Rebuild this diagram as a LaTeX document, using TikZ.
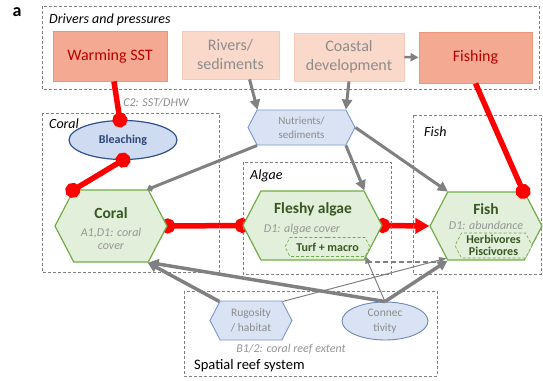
\documentclass[tikz,border=0pt]{standalone}
\usepackage{fontspec}
\setmainfont{Carlito}
\usepackage{tikz}
\usetikzlibrary{positioning, calc}
\usetikzlibrary{arrows.meta}
\usetikzlibrary{shapes,backgrounds}

\definecolor{sstfill}{RGB}{244,170,146}
\definecolor{sstdraw}{RGB}{234,150,124}
\definecolor{drvfill}{RGB}{251,217,202}
\definecolor{drvdraw}{RGB}{246,202,184}
\definecolor{redtext}{RGB}{185,0,0}
\definecolor{drvtext}{RGB}{140,140,140}
\definecolor{hexfill}{RGB}{226,239,218}
\definecolor{hexdraw}{RGB}{112,173,71}
\definecolor{hextext}{RGB}{56,87,35}
\definecolor{subtext}{RGB}{150,150,150}
\definecolor{bluefill}{RGB}{218,227,243}
\definecolor{bleachfill}{RGB}{206,219,241}
\definecolor{bleachdraw}{RGB}{47,82,143}
\definecolor{bleachtext}{RGB}{47,70,120}
\definecolor{bluedraw}{RGB}{120,150,205}
\definecolor{boxgray}{RGB}{128,128,128}
\definecolor{linkgray}{RGB}{128,128,128}
\definecolor{linkred}{RGB}{255,0,0}

\begin{document}
\begin{tikzpicture}[x=1pt,y=-1pt,draw=black!100]
	\useasboundingbox (0,0) rectangle (543,380);
	\tikzstyle{grp-box}=[draw=boxgray,line width=0.8pt,dash pattern=on 3pt off 2pt]
	\tikzstyle{grp-lbl}=[anchor=west,inner sep=0pt,font=\fontsize{14}{16}\selectfont\itshape]
	\tikzstyle{drv-node}=[rectangle,draw=drvdraw,fill=drvfill,text=drvtext,line width=0.8pt,align=center,inner sep=0pt,font=\fontsize{16}{19}\selectfont]
	\tikzstyle{hot-node}=[drv-node,draw=sstdraw,fill=sstfill,text=redtext]
	\tikzstyle{hex-node}=[signal,signal to=east and west,signal pointer angle=125,draw=hexdraw,fill=hexfill,line width=1.2pt,inner sep=0pt]
	\tikzstyle{sub-hex}=[signal,signal to=east and west,signal pointer angle=125,draw=hexdraw,fill=hexfill,densely dashed,line width=0.6pt,inner sep=0pt,align=center,text=hextext,font=\fontsize{12}{12.5}\selectfont\bfseries]
	\tikzstyle{blue-hex}=[signal,signal to=east and west,signal pointer angle=125,draw=bluedraw,fill=bluefill,line width=0.9pt,inner sep=0pt,align=center,text=drvtext]
	\tikzstyle{blue-ell}=[ellipse,draw=bluedraw,fill=bluefill,line width=0.9pt,inner sep=0pt,align=center,text=drvtext]
	\tikzstyle{hex-ttl}=[text=hextext,inner sep=0pt,font=\fontsize{15.5}{17}\selectfont\bfseries]
	\tikzstyle{hex-sub}=[text=subtext,inner sep=0pt,align=center,font=\fontsize{12}{13.5}\selectfont\itshape]
	\tikzstyle{red-link}=[draw=linkred,line width=5.5pt]
	\tikzstyle{red-ball}=[red-link,-{Circle[length=15pt]},shorten >=-7.5pt]
	\tikzstyle{red-balls}=[red-link,{Circle[length=15pt]}-{Circle[length=15pt]},shorten <=-7.5pt,shorten >=-7.5pt]
	\tikzstyle{red-arrow}=[red-link,{Circle[length=15pt]}-{Triangle[length=14pt,width=15pt]},shorten <=-7.5pt]
	\tikzstyle{gray-link}=[draw=linkgray,line width=3pt,-{Triangle[length=10pt,width=10pt]}]
	\tikzstyle{thin-link}=[draw=linkgray,line width=1pt,-{Triangle[length=7pt,width=6pt]}]

	\node[font=\fontsize{18}{20}\selectfont\bfseries] (lbla) at (17,12) {a};

	% drivers and pressures
	\draw[grp-box] (42,6) rectangle (539,89);
	\node[grp-lbl] (lbldrv) at (49,20) {Drivers and pressures};
	\node[hot-node,minimum width=114,minimum height=50] (sst) at (110,56) {Warming SST};
	\node[drv-node,minimum width=97,minimum height=48] (rivers) at (230.5,55) {Rivers/\\sediments};
	\node[drv-node,minimum width=110,minimum height=48] (coastal) at (349,57) {Coastal\\development};
	\node[hot-node,minimum width=113,minimum height=51] (fishing) at (475.5,57.5) {Fishing};
	\node[text=drvtext,font=\fontsize{12}{14}\selectfont\itshape] (lblc2) at (156,103) {C2: SST/DHW};

	% nutrients
	\node[blue-hex,minimum width=107,minimum height=35,font=\fontsize{11}{14.5}\selectfont] (nutr) at (301.5,127.5) {Nutrients/\\sediments};

	% coral
	\draw[grp-box] (42,113) rectangle (219,272);
	\node[grp-lbl] (lblcoral) at (49,124) {Coral};
	\node[ellipse,draw=bleachdraw,fill=bleachfill,line width=1.2pt,minimum width=108,minimum height=39,text=bleachtext,font=\fontsize{12}{14}\selectfont\bfseries] (bleach) at (123,140) {Bleaching};
	\node[hex-node,minimum width=112,minimum height=72] (coral) at (111,226) {};
	\node[hex-ttl] (coralttl) at (111,213) {Coral};
	\node[hex-sub] (coralsub) at (111,239) {A1,D1: coral\\cover};

	% algae
	\draw[grp-box] (243,162) rectangle (391,274);
	\node[grp-lbl] (lblalgae) at (250,176) {Algae};
	\node[hex-node,minimum width=139,minimum height=69] (algae) at (312.5,225.5) {};
	\node[hex-ttl] (algaettl) at (313,209) {Fleshy algae};
	\node[hex-sub] (algaesub) at (302,229) {D1: algae cover};
	\node[sub-hex,minimum width=85,minimum height=19] (turf) at (327.5,247) {Turf + macro};

	% fish
	\draw[grp-box] (413,115) rectangle (541,274);
	\node[grp-lbl] (lblfish) at (424,132) {Fish};
	\node[hex-node,minimum width=112,minimum height=68] (fish) at (486,226) {};
	\node[hex-ttl] (fishttl) at (486,209) {Fish};
	\node[hex-sub] (fishsub) at (486,225) {D1: abundance};
	\node[sub-hex,minimum width=77,minimum height=25] (herb) at (493.5,245.5) {Herbivores\\Piscivores};

	% spatial reef system
	\draw[grp-box] (184,291) rectangle (437,376);
	\node[blue-hex,minimum width=82,minimum height=39,font=\fontsize{11.5}{15}\selectfont] (rug) at (251,320.5) {Rugosity\\/ habitat};
	\node[blue-ell,minimum width=86,minimum height=38,draw=bluedraw!90!black,font=\fontsize{11.5}{15}\selectfont] (conn) at (385,321) {Connec\\tivity};
	\node[text=subtext,font=\fontsize{12}{14}\selectfont\itshape] (lblb12) at (291,349) {B1/2: coral reef extent};
	\node[anchor=west,inner sep=0pt,font=\fontsize{14.5}{16}\selectfont] (lblspat) at (194,366) {Spatial reef system};

	% pressures (red)
	\path (sst)	edge[red-ball]	(bleach)
		(bleach.south)	edge[red-balls]	(coral.137)
		(fishing.south)	edge[red-ball]	(fish.43);
	\begin{scope}[on background layer]
	\path (coral.east)	edge[red-balls]	(algae.west)
		(algae.east)	edge[red-arrow]	(fish.west);
	\end{scope}

	% drivers to nutrients
	\path (rivers.-52)	edge[gray-link]	(nutr.158)
		(coastal.south)	edge[gray-link]	(nutr.22)
		(coastal.east)	edge[gray-link,line width=2.5pt,-{Triangle[length=8pt,width=8pt]}]	(fishing.west)
		(nutr.-158)	edge[gray-link,-{Circle[length=6pt]}]	(coral.45)
		(nutr.-22)	edge[gray-link]	(algae.34)
		(nutr.east)	edge[gray-link]	(fish.138);

	% spatial links
	\path (rug.149)	edge[gray-link,line width=3.5pt]	(coral.-45)
		(conn.north)	edge[gray-link,line width=3.5pt]	(coral.-44)
		(conn.north)	edge[gray-link,line width=3.5pt]	(fish.-138)
		(rug.31)	edge[thin-link]	(fish.-141)
		(conn.north)	edge[thin-link]	(turf.-14);
	\draw[draw=linkgray,line width=2pt,dash pattern=on 5pt off 3pt] ($(turf.-14)+(2,6)$) -- ($(turf.-14 -| fish.-140)+(0,6)$);
\end{tikzpicture}
\end{document}
